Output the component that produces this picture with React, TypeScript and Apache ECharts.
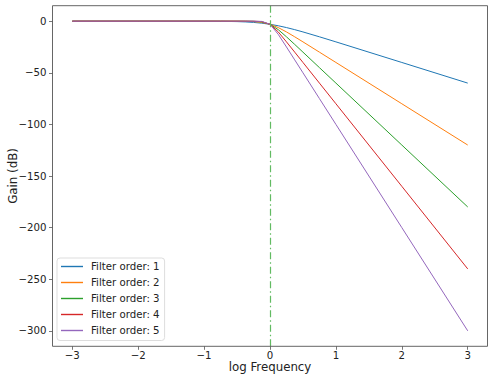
import React, { useEffect, useRef } from "react";
import * as echarts from "echarts";

const logFreq = [-3, -2, -1, -0.75, -0.5, -0.375, -0.25, -0.125, 0, 0.125, 0.25, 0.375, 0.5, 0.75, 1, 2, 3];
const order1 = [0, 0, -0.04, -0.14, -0.41, -0.71, -1.19, -1.94, -3.01, -4.44, -6.19, -8.21, -10.41, -15.14, -20.04, -40, -60];
const order2 = [0, 0, 0, 0, -0.04, -0.14, -0.41, -1.19, -3.01, -6.19, -10.41, -15.14, -20.04, -30, -40, -80, -120];
const order3 = [0, 0, 0, 0, 0, -0.02, -0.14, -0.71, -3.01, -8.21, -15.14, -22.51, -30, -45, -60, -120, -180];
const order4 = [0, 0, 0, 0, 0, 0, -0.04, -0.41, -3.01, -10.41, -20.04, -30, -40, -60, -80, -160, -240];
const order5 = [0, 0, 0, 0, 0, 0, -0.01, -0.24, -3.01, -12.74, -25.01, -37.5, -50, -75, -100, -200, -300];
const seriesNames = ["Filter order: 1", "Filter order: 2", "Filter order: 3", "Filter order: 4", "Filter order: 5"];
const colors = ["#1f77b4", "#ff7f0e", "#2ca02c", "#d62728", "#9467bd"];
const xTicks = [-3, -2, -1, 0, 1, 2, 3];
const yTicks = [-300, -250, -200, -150, -100, -50, 0];
const cutoff = 0;

const fmt = (v: number) => (v < 0 ? "\u2212" + Math.abs(v) : String(v));
const FONT = "DejaVu Sans";
const AX = "#555";
const G = { left: 52.5, right: 6.5, top: 5.7, bottom: 33.7 };

export default function App() {
  const ref = useRef<HTMLDivElement>(null);
  useEffect(() => {
    if (!ref.current) return;
    const chart = echarts.init(ref.current, null, { renderer: "svg" });
    const all = [order1, order2, order3, order4, order5];
    const series: any[] = all.map((vals, i) => ({
      name: seriesNames[i],
      type: "line",
      data: logFreq.map((x, j) => [x, vals[j]]),
      showSymbol: false,
      symbol: "none",
      smooth: false,
      lineStyle: { color: colors[i], width: 1 },
      itemStyle: { color: colors[i] },
      z: 2,
    }));
    series[4].markLine = {
      silent: true,
      symbol: "none",
      label: { show: false },
      lineStyle: { color: "#62bb62", width: 1.2, type: [7, 3, 1.5, 3] },
      data: [{ xAxis: cutoff }],
      z: 5,
    };
    chart.setOption({
      animation: false,
      backgroundColor: "#ffffff",
      textStyle: { fontFamily: FONT },
      grid: {
        ...G,
        containLabel: false,
        outerBoundsMode: "none",
      },
      graphic: [
        {
          type: "rect",
          shape: { x: G.left, y: G.top, width: 494 - G.left - G.right, height: 380 - G.top - G.bottom },
          style: { fill: "none", stroke: AX, lineWidth: 0.9 },
          silent: true,
          z: 10,
        },
      ],
      legend: {
        show: true,
        type: "plain",
        data: seriesNames,
        orient: "vertical",
        left: 57,
        top: 258,
        icon: "rect",
        itemWidth: 22,
        itemHeight: 1.4,
        itemGap: 2,
        padding: [1.5, 5, 3, 4],
        backgroundColor: "rgba(255,255,255,0.8)",
        borderColor: "#dddddd",
        borderWidth: 1,
        borderRadius: 3,
        textStyle: { fontFamily: FONT, fontSize: 10.2, lineHeight: 14, color: "#222", padding: [0, 0, 0, 3] },
      },
      xAxis: {
        type: "value",
        min: -3.3,
        max: 3.3,
        splitLine: { show: false },
        axisLine: { show: false, onZero: false },
        name: "log Frequency",
        nameLocation: "middle",
        nameGap: 15,
        nameMoveOverlap: false,
        nameTextStyle: { fontFamily: FONT, fontSize: 11.8, color: "#222" },
        axisTick: { show: true, length: 3.5, lineStyle: { color: AX, width: 0.8 }, customValues: xTicks },
        axisLabel: {
          customValues: xTicks,
          formatter: fmt,
          fontFamily: FONT,
          fontSize: 10.2,
          color: "#222",
          margin: 4.5,
        },
      },
      yAxis: {
        type: "value",
        min: -315,
        max: 15,
        splitLine: { show: false },
        axisLine: { show: false, onZero: false },
        name: "Gain (dB)",
        nameLocation: "middle",
        nameRotate: 90,
        nameGap: 33.5,
        nameMoveOverlap: false,
        nameTextStyle: { fontFamily: FONT, fontSize: 11.8, color: "#222" },
        axisTick: { show: true, length: 3.5, lineStyle: { color: AX, width: 0.8 }, customValues: yTicks },
        axisLabel: {
          customValues: yTicks,
          formatter: fmt,
          fontFamily: FONT,
          fontSize: 10.2,
          color: "#222",
          margin: 6,
        },
      },
      series,
    });
    return () => chart.dispose();
  }, []);
  return <div ref={ref} style={{ position: "fixed", left: 0, top: 0, width: 494, height: 380 }} />;
}
